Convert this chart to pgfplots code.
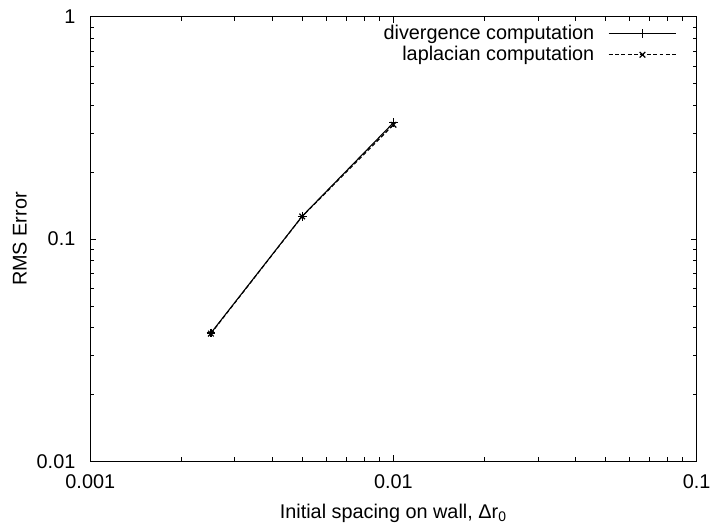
\documentclass[border=0pt]{standalone}
\usepackage{fontspec}
\setmainfont{Liberation Sans}
\usepackage{pgfplots}
\pgfplotsset{compat=1.18}
\begin{document}
\begin{tikzpicture}
\fontsize{10bp}{12bp}\selectfont
\begin{axis}[
  at={(0,0)}, anchor=south west,
  scale only axis,
  width=305.5bp, height=224bp,
  xmode=log, ymode=log,
  xmin=0.001, xmax=0.1, ymin=0.01, ymax=1,
  xtick={0.001,0.01,0.1}, xticklabels={0.001,0.01,0.1},
  ytick={0.01,0.1,1}, yticklabels={0.01,0.1,1},
  /pgf/number format/assume math mode=true,
  tick align=inside,
  major tick length=3bp, minor tick length=2bp,
  axis line style={line width=0.5bp},
  every tick/.style={black, line width=0.5bp},
  ticklabel style={font=\fontsize{10bp}{12bp}\selectfont},
  yticklabel style={xshift=-4bp},
  xticklabel style={yshift=-3bp},
  xlabel={Initial spacing on wall, Δr\textsubscript{0}},
  ylabel={RMS Error},
  label style={font=\fontsize{10bp}{12bp}\selectfont},
  every axis x label/.style={at={(axis description cs:0.5,0)}, anchor=center, yshift=-26bp},
  every axis y label/.style={at={(axis description cs:-0.1162,0.5)}, anchor=center, rotate=90},
  legend style={draw=none, fill=none, at={(rel axis cs:1,1)}, anchor=north east,
    xshift=-10bp, yshift=-2bp, row sep=-2bp,
    font=\fontsize{10bp}{12bp}\selectfont, inner sep=0pt, outer sep=0pt},
  legend cell align=right,
  legend plot pos=right,
  legend image code/.code={\path (0bp,0bp);
     \draw[#1, mark=none] (5bp,0bp) -- (39bp,0bp);
     \draw[#1, solid] plot[only marks] coordinates {(22bp,0bp)};},
]
\addplot[black, line width=0.55bp, mark=+, mark size=2.2bp, mark options={solid, line width=0.6bp}] coordinates {
  (0.0025,0.0378) (0.005,0.1268) (0.01,0.334)
};
\addlegendentry{divergence computation}
\addplot[black, line width=0.55bp, dash pattern=on 2bp off 1.2bp, mark=x, mark size=2bp, mark options={solid, line width=0.6bp}] coordinates {
  (0.0025,0.0376) (0.005,0.1265) (0.01,0.327)
};
\addlegendentry{laplacian computation}
\end{axis}
\path[use as bounding box] (-45.5bp,-30.5bp) rectangle (313bp,232.5bp);
\end{tikzpicture}
\end{document}
